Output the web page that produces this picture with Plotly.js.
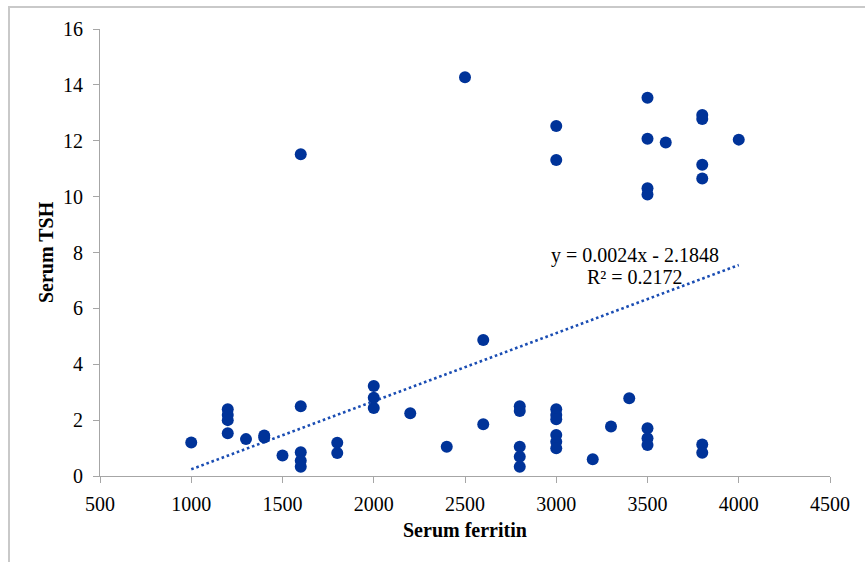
<!DOCTYPE html>
<html>
<head>
<meta charset="utf-8">
<script src="https://cdn.plot.ly/plotly-3.0.1.min.js"></script>
<style>
  html, body { margin: 0; padding: 0; background: #ffffff; }
  #wrap { position: relative; width: 865px; height: 562px; overflow: hidden; }
  #chart { width: 865px; height: 562px; }
  #frame { position: absolute; left: 8px; top: 6px; width: 900px; height: 600px;
           border-left: 2px solid #c9c9c9; border-top: 2px solid #c9c9c9; pointer-events: none; }
</style>
</head>
<body>
<div id="wrap">
  <div id="chart"></div>
  <div id="frame"></div>
</div>
<script>
// Serum ferritin (x) and Serum TSH (y) values
const ferritin = [
  1000,
  1200, 1200, 1200, 1200,
  1300,
  1400, 1400,
  1500,
  1600, 1600, 1600, 1600, 1600,
  1800, 1800,
  2000, 2000, 2000,
  2200,
  2400,
  2500,
  2600, 2600,
  2800, 2800, 2800, 2800, 2800,
  3000, 3000, 3000, 3000, 3000, 3000, 3000, 3000,
  3200,
  3300,
  3400,
  3500, 3500, 3500, 3500, 3500, 3500, 3500,
  3600,
  3800, 3800, 3800, 3800, 3800, 3800,
  4000
];
const tsh = [
  1.2,
  2.39, 2.18, 2.0, 1.53,
  1.32,
  1.45, 1.38,
  0.73,
  11.52, 2.5, 0.85, 0.55, 0.33,
  1.19, 0.82,
  3.22, 2.8, 2.43,
  2.25,
  1.05,
  14.27,
  4.87, 1.85,
  2.5, 2.33, 1.05, 0.69, 0.33,
  12.53, 11.31, 2.39, 2.18, 2.03, 1.47, 1.23, 0.99,
  0.6,
  1.77,
  2.78,
  13.54, 12.07, 10.3, 10.08, 1.71, 1.35, 1.11,
  11.94,
  12.92, 12.78, 11.14, 10.65, 1.13, 0.83,
  12.04
];

// Linear trendline (as drawn in the reference)
const trendSlope = 0.002437;
const trendIntercept = -2.197;
const trendX = [1000, 4000];
const trendY = trendX.map(v => trendSlope * v + trendIntercept);

const xTicks = [500, 1000, 1500, 2000, 2500, 3000, 3500, 4000, 4500];
const yTicks = [0, 2, 4, 6, 8, 10, 12, 14, 16];

const eqLine1 = 'y = 0.0024x - 2.1848';
const eqLine2 = 'R\u00B2 = 0.2172';
const xTitle = 'Serum ferritin';
const yTitle = 'Serum TSH';

const serif = 'Liberation Serif, Times New Roman, serif';
const axisGray = '#a6a6a6';

const traces = [
  {
    x: trendX, y: trendY, type: 'scatter', mode: 'lines',
    line: { color: '#1a4db3', width: 2.6, dash: '2.6px,2.8px' },
    hoverinfo: 'skip', showlegend: false
  },
  {
    x: ferritin, y: tsh, type: 'scatter', mode: 'markers',
    marker: { color: '#003399', size: 12, line: { width: 0 } },
    showlegend: false
  }
];

const layout = {
  width: 865, height: 562,
  margin: { l: 100, r: 35, t: 29, b: 86 },
  paper_bgcolor: '#ffffff', plot_bgcolor: '#ffffff',
  font: { family: serif, size: 20, color: '#000000' },
  showlegend: false,
  xaxis: {
    range: [500, 4500], tickmode: 'array', tickvals: xTicks, ticktext: xTicks.map(String),
    showgrid: false, zeroline: false, showline: true, linecolor: axisGray, linewidth: 1,
    ticks: 'outside', ticklen: 6, tickcolor: axisGray, tickwidth: 1,
    tickfont: { family: serif, size: 20, color: '#000' }, ticklabelstandoff: 4,
    fixedrange: true
  },
  yaxis: {
    range: [0, 16], tickmode: 'array', tickvals: yTicks, ticktext: yTicks.map(String),
    showgrid: false, zeroline: false, showline: true, linecolor: axisGray, linewidth: 1,
    ticks: 'outside', ticklen: 6, tickcolor: axisGray, tickwidth: 1,
    tickfont: { family: serif, size: 20, color: '#000' }, ticklabelstandoff: 6,
    fixedrange: true
  },
  annotations: [
    { text: '<b>' + xTitle + '</b>', xref: 'paper', yref: 'paper', x: 0.5, y: -0.121,
      xanchor: 'center', yanchor: 'middle', showarrow: false,
      font: { family: serif, size: 20, color: '#000' } },
    { text: '<b>' + yTitle + '</b>', xref: 'paper', yref: 'paper', x: -0.074, y: 0.501,
      xanchor: 'center', yanchor: 'middle', showarrow: false, textangle: -90,
      font: { family: serif, size: 20, color: '#000' } },
    { text: eqLine1, xref: 'paper', yref: 'paper', x: 0.733, y: 0.494,
      xanchor: 'center', yanchor: 'middle', showarrow: false,
      font: { family: serif, size: 20, color: '#000' } },
    { text: eqLine2, xref: 'paper', yref: 'paper', x: 0.733, y: 0.445,
      xanchor: 'center', yanchor: 'middle', showarrow: false,
      font: { family: serif, size: 20, color: '#000' } }
  ]
};

Plotly.newPlot('chart', traces, layout, { staticPlot: true, displayModeBar: false });
</script>
</body>
</html>
